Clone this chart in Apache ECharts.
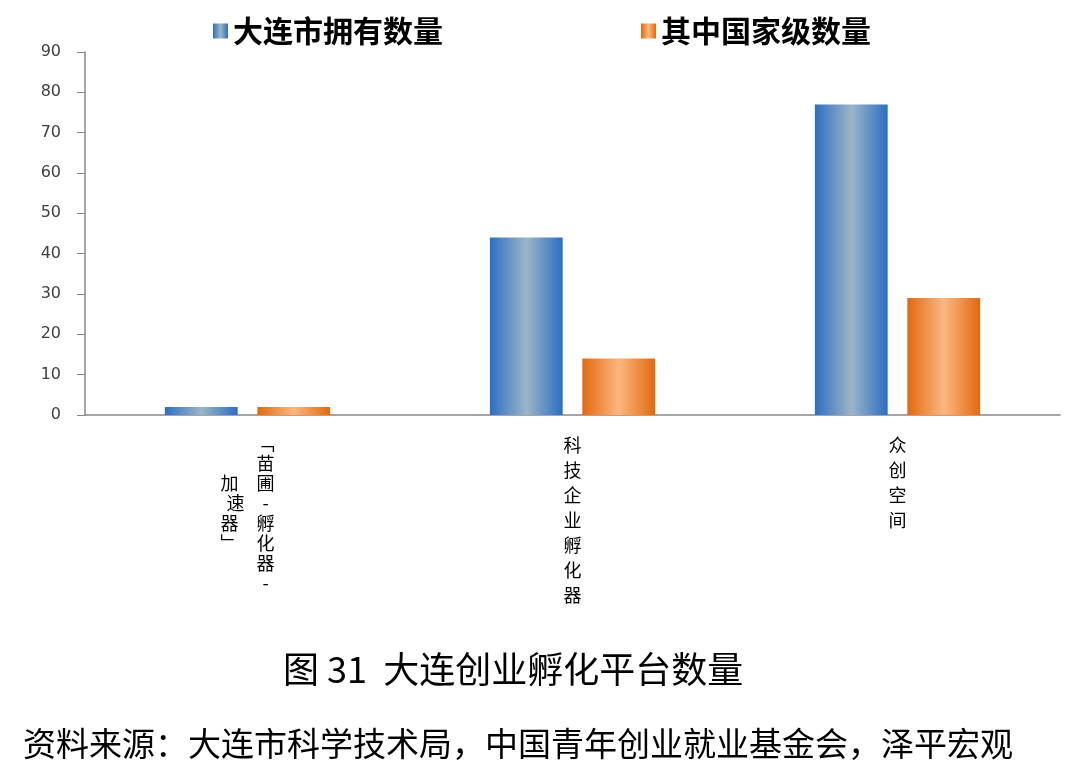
<!DOCTYPE html>
<html>
<head>
<meta charset="utf-8">
<script src="https://cdn.jsdelivr.net/npm/echarts@6/dist/echarts.min.js"></script>
<style>
html,body{margin:0;padding:0;background:#fff;}
#chart{width:1077px;height:775px;}
</style>
</head>
<body>
<div id="chart"></div>
<script>
// 数据
var categories = ['「苗圃-孵化器-加速器」', '科技企业孵化器', '众创空间'];
var dalianCount = [2, 44, 77];
var nationalCount = [2, 14, 29];
var seriesNames = ['大连市拥有数量', '其中国家级数量'];

// 竖排标签
function verticalLabel(val, idx) {
    if (idx === 0) {
        var right = ['﹁', '苗', '圃', '-', '孵', '化', '器', '-'];
        var left = ['', '', '加', '速', '器', '﹂', '', ''];
        var rows = [];
        for (var i = 0; i < right.length; i++) {
            rows.push('{a|' + (left[i] || '　') + '　' + right[i] + '}');
        }
        return rows.join('\n');
    }
    return val.split('').map(function (c) { return '{b|' + c + '}'; }).join('\n');
}

function grad(edge, mid) {
    return new echarts.graphic.LinearGradient(0, 0, 1, 0, [
        { offset: 0, color: edge },
        { offset: 0.5, color: mid },
        { offset: 1, color: edge }
    ]);
}

var chart = echarts.init(document.getElementById('chart'));
var option = {
    backgroundColor: '#fff',
    animation: false,
    title: [
        {
            text: '图 31  大连创业孵化平台数量',
            left: 278,
            top: 646,
            textStyle: { fontFamily: 'Noto Sans CJK SC', fontSize: 36, fontWeight: 'normal', color: '#000' }
        },
        {
            text: '资料来源：大连市科学技术局，中国青年创业就业基金会，泽平宏观',
            left: 18,
            top: 722,
            textStyle: { fontFamily: 'Noto Sans CJK SC', fontSize: 33, fontWeight: 'normal', color: '#000' }
        }
    ],
    legend: {
        data: seriesNames,
        left: 208,
        top: 11,
        icon: 'rect',
        itemWidth: 15,
        itemHeight: 15,
        itemGap: 198,
        textStyle: { fontFamily: 'Noto Sans CJK SC', fontSize: 30, fontWeight: 'bold', color: '#000' }
    },
    grid: { left: 85, right: 17, top: 52, bottom: 360 },
    xAxis: {
        type: 'category',
        data: categories,
        axisLine: { lineStyle: { color: '#888', width: 1.5 } },
        axisTick: { length: 8, lineStyle: { color: '#888' } },
        axisLabel: {
            interval: 0,
            margin: 18,
            color: '#000',
            fontFamily: 'Noto Sans CJK SC',
            formatter: verticalLabel,
            verticalAlign: 'top',
            rich: {
                a: { fontSize: 18, lineHeight: 20, fontFamily: 'Noto Sans CJK SC', color: '#000' },
                b: { fontSize: 18, lineHeight: 25, fontFamily: 'Noto Sans CJK SC', color: '#000' }
            }
        }
    },
    yAxis: {
        type: 'value',
        min: 0,
        max: 90,
        interval: 10,
        splitLine: { show: false },
        axisLine: { show: true, lineStyle: { color: '#888', width: 1.5 } },
        axisTick: { show: true, length: 8, lineStyle: { color: '#888' } },
        axisLabel: { fontFamily: 'DejaVu Sans', fontSize: 16, color: '#404040', margin: 24 }
    },
    series: [
        {
            name: seriesNames[0],
            type: 'bar',
            data: dalianCount,
            barWidth: '22.4%',
            barGap: '27%',
            itemStyle: { color: grad('#2c6fc2', '#9cb5c6') }
        },
        {
            name: seriesNames[1],
            type: 'bar',
            data: nationalCount,
            barWidth: '22.4%',
            itemStyle: { color: grad('#e2690f', '#fbb780') }
        }
    ]
};
chart.setOption(option);
</script>
</body>
</html>
